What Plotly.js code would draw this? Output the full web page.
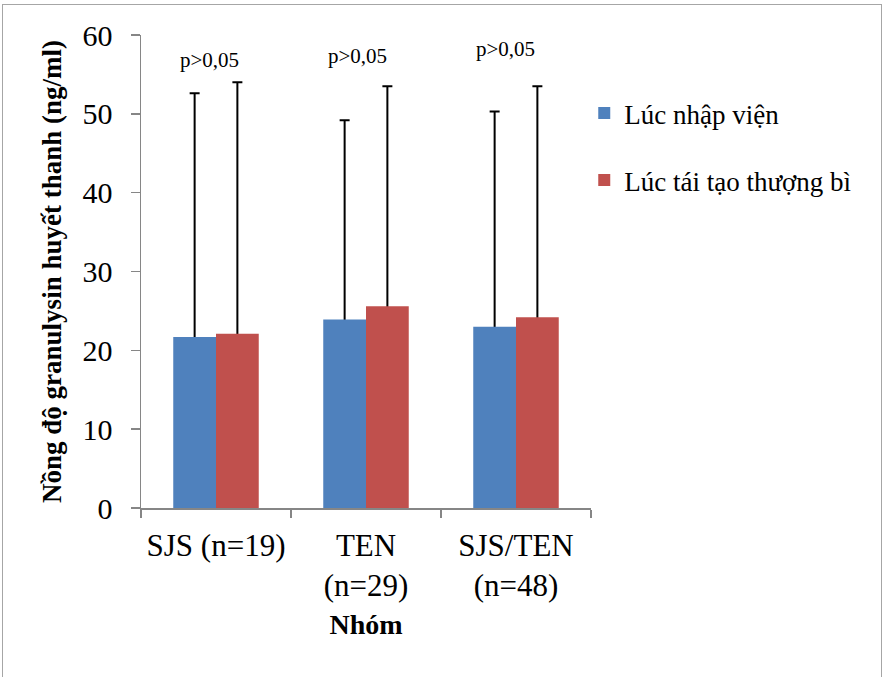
<!DOCTYPE html>
<html>
<head>
<meta charset="utf-8">
<script src="https://cdn.plot.ly/plotly-3.0.1.min.js"></script>
<style>
  html, body { margin: 0; padding: 0; overflow: hidden; background: #fff; }
  #chart { width: 886px; height: 677px; position: absolute; left: 0; top: 0; }
  #frame { position: absolute; left: 2px; top: 4px; width: 880px; height: 720px;
           border: 1.5px solid #a6a6a6; pointer-events: none; box-sizing: border-box; }
</style>
</head>
<body>
<div id="chart"></div>
<div id="frame"></div>
<script>
// ---- data ----
const categories = ['SJS (n=19)', 'TEN<br>(n=29)', 'SJS/TEN<br>(n=48)'];
const seriesNames = ['Lúc nhập viện', 'Lúc tái tạo thượng bì'];
const admission = [21.7, 23.9, 23.0];
const reepithelial = [22.1, 25.6, 24.2];
const admissionSD = [30.9, 25.3, 27.3];
const reepithelialSD = [31.9, 27.9, 29.3];
const pLabels = ['p>0,05', 'p>0,05', 'p>0,05'];
const yTicks = [0, 10, 20, 30, 40, 50, 60];

const serif = 'Liberation Serif';
const axisGray = '#868686';
const colors = ['#4F81BD', '#C0504D'];

// error-bar carrier traces (drawn first, so the coloured bars hide the lower part)
function carrier(y, sd, group) {
  return { type: 'bar', x: categories, y: y, offsetgroup: group, showlegend: false,
           marker: { color: 'rgba(0,0,0,0)', line: { width: 0 } }, hoverinfo: 'skip',
           error_y: { type: 'data', symmetric: false, array: sd, arrayminus: y,
                      color: '#000', thickness: 2, width: 5 } };
}
function bars(y, name, group, color) {
  return { type: 'bar', x: categories, y: y, name: name, offsetgroup: group,
           legendgroup: group, marker: { color: color, line: { width: 0 } } };
}

const traces = [
  carrier(admission, admissionSD, 'a'),
  carrier(reepithelial, reepithelialSD, 'b'),
  bars(admission, seriesNames[0], 'a', colors[0]),
  bars(reepithelial, seriesNames[1], 'b', colors[1])
];

const labelY = [56.8, 57.3, 58.2];
const labelShift = [-7, -9, -11];
const annotations = pLabels.map((t, i) => ({
  x: categories[i], y: labelY[i], xref: 'x', yref: 'y', text: t, showarrow: false,
  xshift: labelShift[i], font: { family: serif, size: 21, color: '#000' }
}));

const layout = {
  width: 886, height: 677,
  font: { family: serif, size: 26, color: '#000' },
  margin: { l: 141, r: 295, t: 35, b: 169, pad: 0 },
  paper_bgcolor: '#fff', plot_bgcolor: '#fff',
  barmode: 'group', bargap: 0.43, bargroupgap: 0,
  showlegend: true,
  legend: { x: 0.985, xanchor: 'left', y: 0.886, yanchor: 'top',
            traceorder: 'grouped', tracegroupgap: 29,
            font: { family: serif, size: 27, color: '#000' },
            bgcolor: 'rgba(0,0,0,0)' },
  xaxis: {
    type: 'category', showline: true, linecolor: axisGray, linewidth: 1.5,
    ticks: 'outside', tickson: 'boundaries', ticklen: 8, tickwidth: 1.5, tickcolor: axisGray,
    ticklabelstandoff: 9, tickangle: 0,
    tickfont: { family: serif, size: 31, color: '#000' }, showgrid: false,
    automargin: false,
    title: { text: '<b>Nhóm</b>', font: { family: serif, size: 28, color: '#000' }, standoff: 12 }
  },
  yaxis: {
    range: [0, 60], tickvals: yTicks, showline: true, linecolor: axisGray, linewidth: 1.5,
    ticks: 'outside', ticklen: 9, tickwidth: 1.5, tickcolor: axisGray,
    ticklabelstandoff: 12, showgrid: false, zeroline: false, automargin: false,
    tickfont: { family: serif, size: 30, color: '#000' },
    title: { text: '<b>Nồng độ granulysin huyết thanh (ng/ml)</b>',
             font: { family: serif, size: 27, color: '#000' }, standoff: 13 }
  },
  annotations: annotations
};

Plotly.newPlot('chart', traces, layout, { displayModeBar: false, staticPlot: true });
</script>
</body>
</html>
